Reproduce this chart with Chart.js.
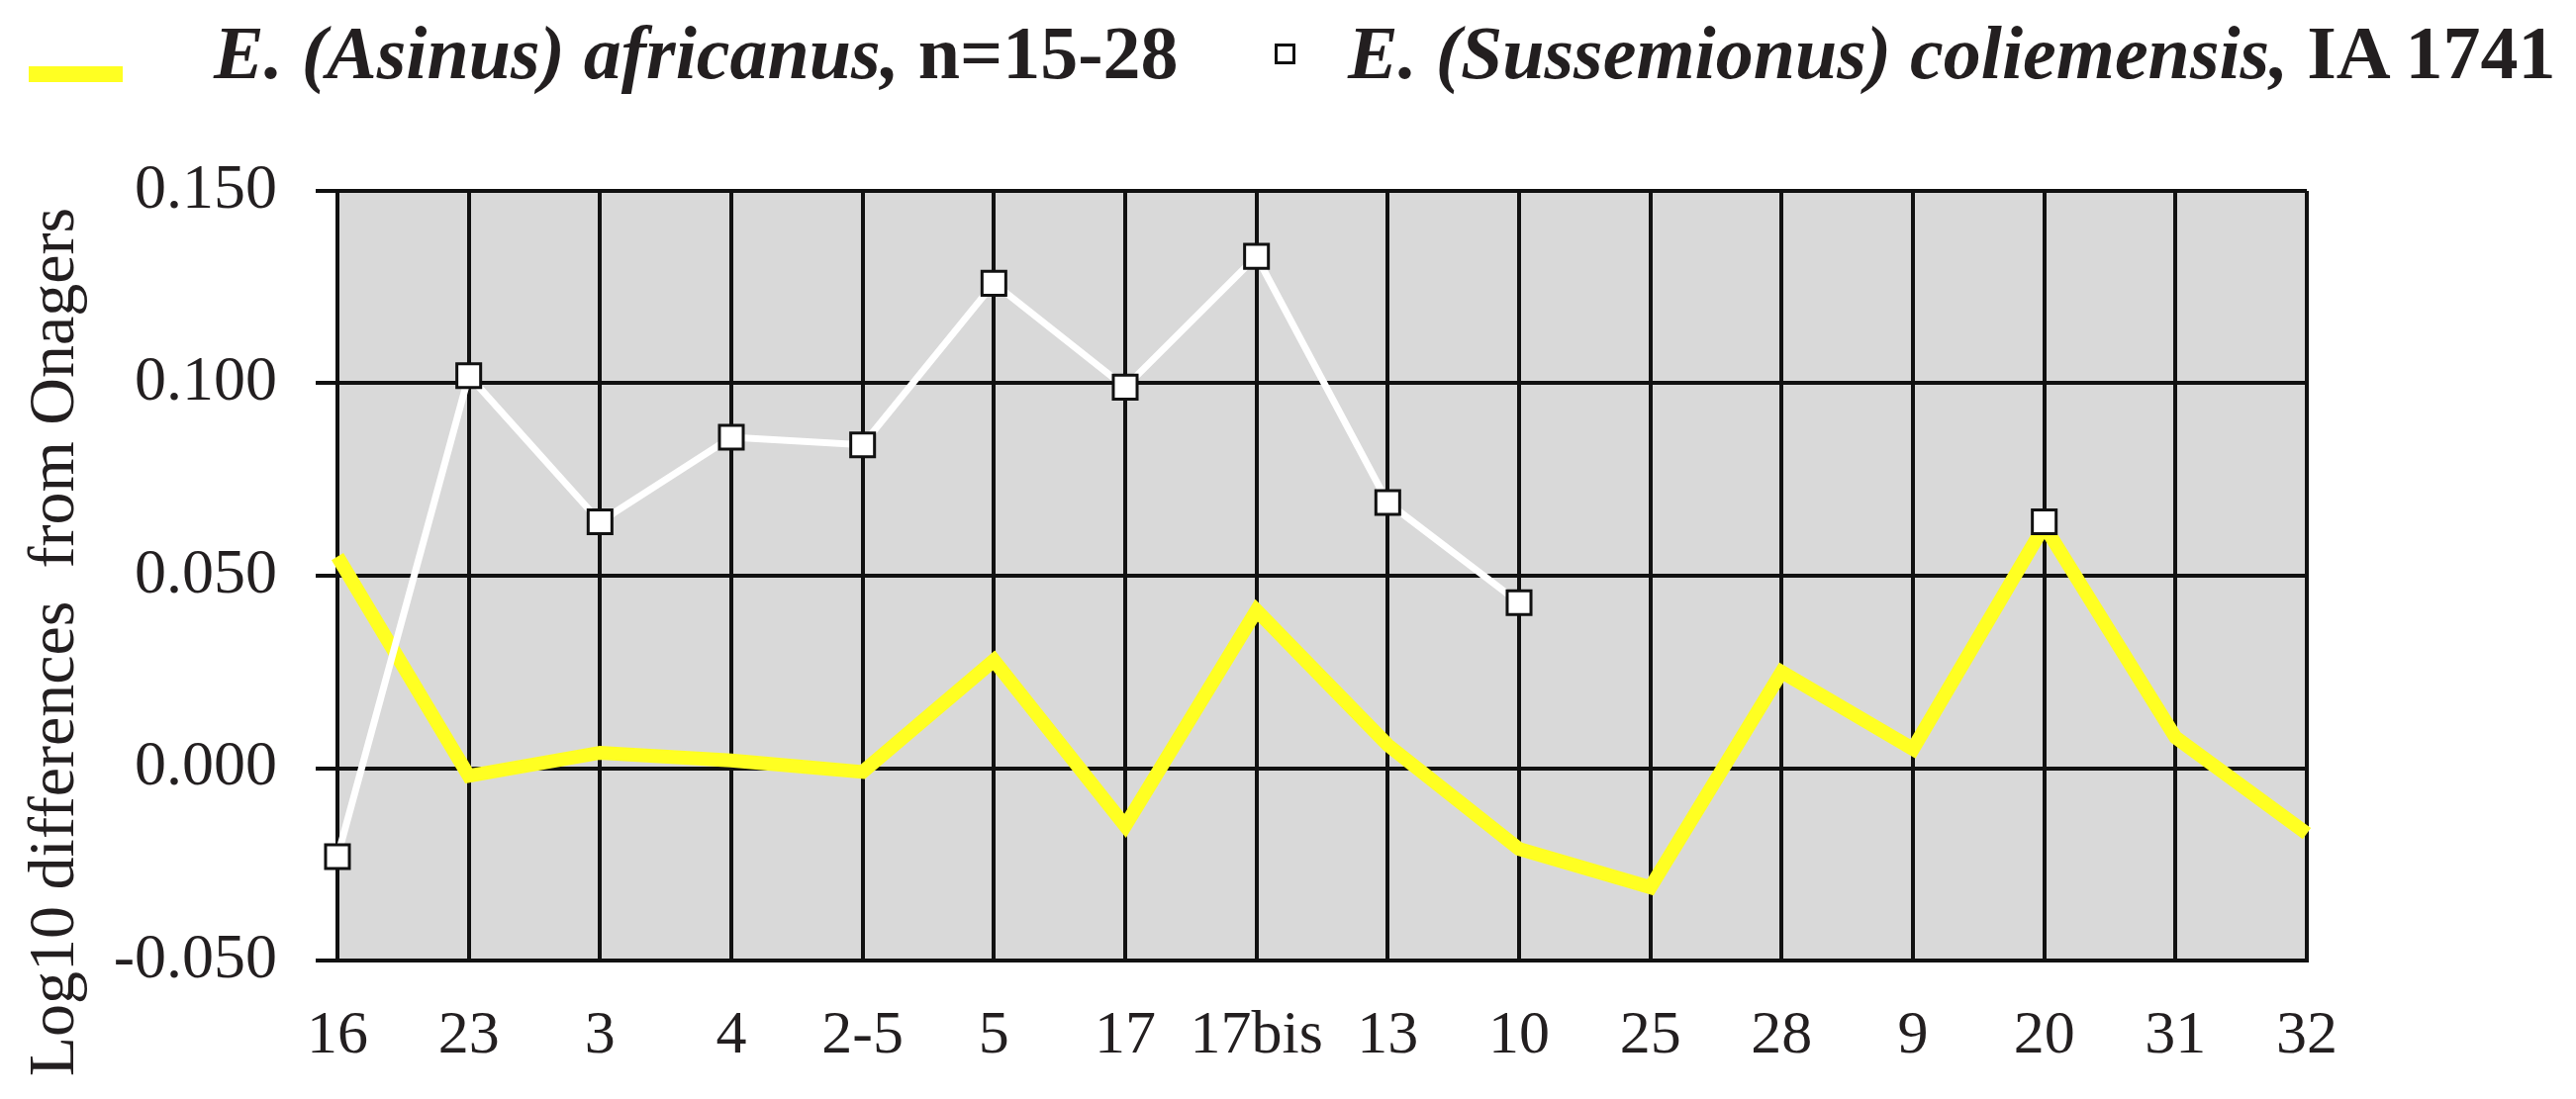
<!DOCTYPE html>
<html>
<head>
<meta charset="utf-8">
<title>Log10 differences from Onagers</title>
<script src="https://cdn.jsdelivr.net/npm/chart.js@4.4.0/dist/chart.umd.min.js"></script>
<style>
    html, body { margin: 0; padding: 0; background: #fff; }
    #wrap { position: relative; width: 2603px; height: 1111px; overflow: hidden; }
    #chart { position: absolute; left: 0; top: 0; }
    .lg { position: absolute; font-family: "Liberation Serif", "DejaVu Serif", serif; font-weight: bold;
          font-size: 76px; line-height: 76px; color: #231f20; white-space: nowrap; }
    .lg i { font-style: italic; }
    .lg-line { position: absolute; background: #ffff22; }
    .lg-box { position: absolute; background: #fff; border: 3px solid #111; box-sizing: border-box; }
</style>
</head>
<body>
<div id="wrap">
    <canvas id="chart" width="2603" height="1111"></canvas>
    <div class="lg-line" style="left:29px; top:67px; width:95px; height:16px;"></div>
    <div class="lg" style="left:216px; top:15px;"><i>E. (Asinus) africanus,</i> n=15-28</div>
    <div class="lg-box" style="left:1288px; top:44px; width:21px; height:21px;"></div>
    <div class="lg" style="left:1362px; top:15px;"><i>E. (Sussemionus) coliemensis,</i> IA 1741</div>
</div>
<script>
// ------- Data -------
const categories = ['16', '23', '3', '4', '2-5', '5', '17', '17bis', '13', '10', '25', '28', '9', '20', '31', '32'];
const africanus = [0.055, -0.002, 0.004, 0.002, -0.001, 0.028, -0.015, 0.041, 0.006, -0.021, -0.031, 0.025, 0.005, 0.063, 0.008, -0.017];
const coliemensis = [-0.023, 0.102, 0.064, 0.086, 0.084, 0.126, 0.099, 0.133, 0.069, 0.043, null, null, null, 0.064, null, null];
const yMin = -0.05, yMax = 0.15, yStep = 0.05;

const SERIF = '"Liberation Serif", "DejaVu Serif", serif';
const INK = '#231f20';

// gris de fondo solo en el área de trazado
const plotBg = {
    id: 'plotBg',
    beforeDraw(chart) {
        const { ctx, chartArea: a } = chart;
        ctx.save();
        ctx.fillStyle = '#d9d9d9';
        ctx.fillRect(a.left, a.top, a.right - a.left, a.bottom - a.top);
        ctx.restore();
    }
};

// título del eje Y (va algo más bajo que el centro del área)
const yTitle = {
    id: 'yTitle',
    afterDraw(chart) {
        const ctx = chart.ctx;
        ctx.save();
        ctx.translate(74, 649);
        ctx.rotate(-Math.PI / 2);
        ctx.font = '66px ' + SERIF;
        ctx.fillStyle = INK;
        ctx.textAlign = 'center';
        ctx.textBaseline = 'alphabetic';
        ctx.fillText('Log10 differences  from Onagers', 0, 0);
        ctx.restore();
    }
};

new Chart(document.getElementById('chart'), {
    type: 'line',
    data: {
        labels: categories,
        datasets: [
            {
                label: 'E. (Sussemionus) coliemensis, IA 1741',
                data: coliemensis,
                borderColor: '#ffffff',
                borderWidth: 7,
                pointStyle: 'rect',
                pointRadius: 17,
                pointBackgroundColor: '#ffffff',
                pointBorderColor: '#111111',
                pointBorderWidth: 3,
                spanGaps: false,
                tension: 0
            },
            {
                label: 'E. (Asinus) africanus, n=15-28',
                data: africanus,
                borderColor: '#ffff22',
                borderWidth: 14,
                pointRadius: 0,
                tension: 0
            }
        ]
    },
    options: {
        responsive: false,
        animation: false,
        devicePixelRatio: 1,
        layout: { padding: { top: 193, right: 272, bottom: 0, left: 0 } },
        plugins: { legend: { display: false }, tooltip: { enabled: false } },
        scales: {
            x: {
                offset: false,
                grid: { color: '#111', lineWidth: 4, drawTicks: false },
                border: { color: '#111', width: 4 },
                ticks: { autoSkip: false, maxRotation: 0, padding: 40, color: INK, font: { family: SERIF, size: 62 } },
                afterFit: s => { s.height = 140; }
            },
            y: {
                min: yMin,
                max: yMax,
                grid: { color: '#111', lineWidth: 4, drawTicks: true, tickLength: 22 },
                border: { color: '#111', width: 4 },
                ticks: {
                    stepSize: yStep,
                    padding: 39,
                    color: INK,
                    font: { family: SERIF, size: 64 },
                    callback: v => Number(v).toFixed(3)
                },
                afterFit: s => { s.width = 341; }
            }
        }
    },
    plugins: [plotBg, yTitle]
});
</script>
</body>
</html>
